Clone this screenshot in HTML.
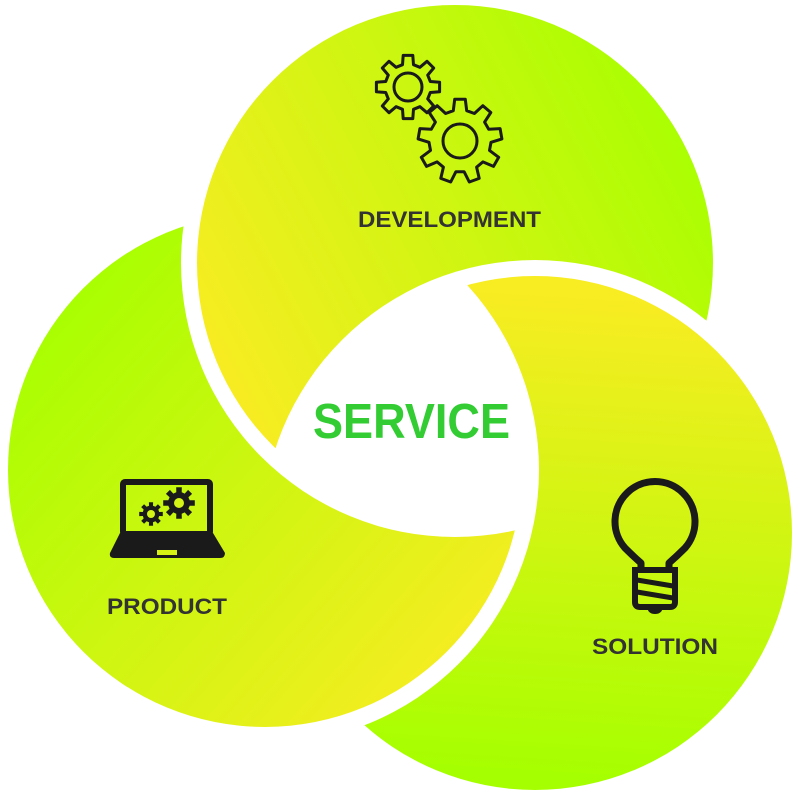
<!DOCTYPE html>
<html><head><meta charset="utf-8"><style>
html,body{margin:0;padding:0;background:#fff;width:800px;height:800px;overflow:hidden}
svg{display:block}
text{font-family:"Liberation Sans",sans-serif;font-weight:bold}
</style></head><body>
<svg id="s" width="800" height="800" viewBox="0 0 800 800" xmlns="http://www.w3.org/2000/svg">
<defs>
<linearGradient id="gD" gradientUnits="userSpaceOnUse" x1="220" y1="380" x2="710" y2="120">
<stop offset="0" stop-color="#f8ec22"/><stop offset="1" stop-color="#a6ff00"/></linearGradient>
<linearGradient id="gP" gradientUnits="userSpaceOnUse" x1="40" y1="300" x2="470" y2="680">
<stop offset="0" stop-color="#a6ff00"/><stop offset="1" stop-color="#f8ec22"/></linearGradient>
<linearGradient id="gS" gradientUnits="userSpaceOnUse" x1="500" y1="290" x2="470" y2="770">
<stop offset="0" stop-color="#f8ec22"/><stop offset="1" stop-color="#a6ff00"/></linearGradient>
<mask id="mD" maskUnits="userSpaceOnUse" x="0" y="0" width="800" height="800"><rect width="800" height="800" fill="#fff"/><circle cx="535" cy="533" r="273" fill="#000"/></mask>
<mask id="mP" maskUnits="userSpaceOnUse" x="0" y="0" width="800" height="800"><rect width="800" height="800" fill="#fff"/><circle cx="455" cy="263" r="274" fill="#000"/></mask>
<mask id="mS" maskUnits="userSpaceOnUse" x="0" y="0" width="800" height="800"><rect width="800" height="800" fill="#fff"/><circle cx="265" cy="470" r="274" fill="#000"/></mask>
</defs>
<circle cx="455" cy="263" r="258" fill="url(#gD)" mask="url(#mD)"/>
<circle cx="265" cy="470" r="257" fill="url(#gP)" mask="url(#mP)"/>
<circle cx="535" cy="533" r="257" fill="url(#gS)" mask="url(#mS)"/>

<g id="gears" fill="none" stroke="#1a1a1a" stroke-width="3" stroke-linejoin="round">
<circle cx="408" cy="87" r="14"/>
<circle cx="460" cy="141" r="17"/>
</g>

<!-- laptop -->
<rect x="123" y="482" width="87" height="52" fill="none" stroke="#1a1a1a" stroke-width="6" rx="2"/>
<path d="M120,533 L213,533 L225,553 Q225,558 220,558 L114,558 Q109,558 110,553 Z" fill="#1a1a1a"/>
<rect x="157" y="550" width="20" height="5" fill="#d6f214"/>
<g id="lgears" fill="#1a1a1a"></g>
<circle cx="151" cy="514" r="4" fill="#d4f515"/>
<circle cx="179" cy="503" r="5" fill="#d4f515"/>

<!-- bulb -->
<path d="M641,569 L641,563 Q633,556 625,548 A40,40 0 1 1 685,548 Q677,556 669,563 L669,569" fill="none" stroke="#1a1a1a" stroke-width="7" stroke-linejoin="round"/>
<path d="M635,570 L675,570 L675,602 Q675,607 670,607 L640,607 Q635,607 635,602 Z" fill="none" stroke="#1a1a1a" stroke-width="6"/>
<line x1="637" y1="580" x2="673" y2="586" stroke="#1a1a1a" stroke-width="5"/>
<line x1="637" y1="592" x2="673" y2="598" stroke="#1a1a1a" stroke-width="5"/>
<path d="M647,607 L663,607 Q662,614 655,614 Q648,614 647,607 Z" fill="#1a1a1a"/>

<text x="358" y="227" font-size="22" fill="#333" textLength="183" lengthAdjust="spacingAndGlyphs">DEVELOPMENT</text>
<text x="107" y="614" font-size="22" fill="#333" textLength="120" lengthAdjust="spacingAndGlyphs">PRODUCT</text>
<text x="592" y="654" font-size="22" fill="#333" textLength="126" lengthAdjust="spacingAndGlyphs">SOLUTION</text>
<text x="313" y="438" font-size="49" fill="#33cc33" textLength="197" lengthAdjust="spacingAndGlyphs">SERVICE</text>
</svg>
<script>
function gear(cx,cy,ro,ri,n,tw){
  var p=[],step=Math.PI*2/n;
  for(var i=0;i<n;i++){
    var a=i*step-Math.PI/2;
    var t=tw*step/2, b=step*0.5;
    var pts=[[ri,a-b*0.62],[ro,a-t],[ro,a+t],[ri,a+b*0.62]];
    pts.forEach(function(q){p.push((cx+q[0]*Math.cos(q[1])).toFixed(1)+","+(cy+q[0]*Math.sin(q[1])).toFixed(1));});
  }
  return "M"+p.join(" L")+"Z";
}
var NS="http://www.w3.org/2000/svg";
function add(g,d){var e=document.createElementNS(NS,"path");e.setAttribute("d",d);document.getElementById(g).appendChild(e);}
add("gears",gear(408,87,32,23,8,0.38));
add("gears",gear(460,141,42,31,9,0.36));
add("lgears",gear(151,514,12,8.5,8,0.45));
add("lgears",gear(179,503,16,11,8,0.45));
</script>
</body></html>
